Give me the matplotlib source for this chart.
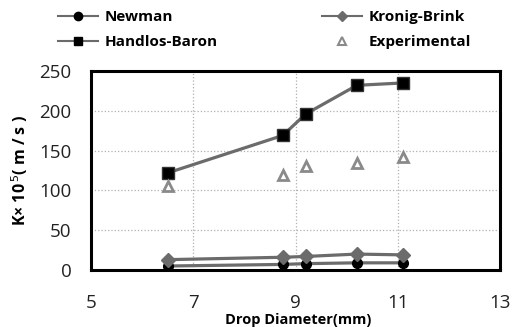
import matplotlib
matplotlib.use("Agg")
import matplotlib.pyplot as plt
from matplotlib.lines import Line2D

plt.rcParams['font.family'] = ['Open Sans', 'DejaVu Sans']

diameter = [6.5, 8.75, 9.2, 10.2, 11.1]
newman = [5, 7, 8, 9, 9]
kronig = [13, 16, 17, 20, 19]
handlos = [122, 169, 196, 232, 235]
experimental = [106, 119, 131, 135, 142]
xticks = [5, 7, 9, 11, 13]
yticks = [0, 50, 100, 150, 200, 250]

fig = plt.figure(figsize=(5.15, 3.27), dpi=100)
ax = fig.add_axes([91/515, 1-270/327, 409/515, 199/327])

lc = '#6b6b6b'
ax.plot(diameter, newman, '-', color=lc, lw=2.3, marker='o', ms=7, mfc='black', mec='black', zorder=3)
ax.plot(diameter, kronig, '-', color=lc, lw=2.3, marker='D', ms=7, mfc=lc, mec=lc, zorder=3)
ax.plot(diameter, handlos, '-', color=lc, lw=2.3, marker='s', ms=8, mfc='black', mec='#333333', zorder=3)
ax.plot(diameter, experimental, linestyle='none', marker='^', ms=7.5, mfc='white', mec='#8a8a8a', mew=2, zorder=3)

ax.set_xlim(5, 13)
ax.set_ylim(0, 250)
ax.set_xticks(xticks)
ax.set_yticks(yticks)
ax.tick_params(length=0, labelsize=13.5, colors='#222222')
ax.tick_params(axis='x', pad=17)
ax.tick_params(axis='y', pad=14)
ax.grid(True, color='#b0b0b0', linestyle=':', lw=0.9)
for s in ax.spines.values():
    s.set_linewidth(2.2)
    s.set_color('black')

ax.set_xlabel('Drop Diameter(mm)', fontsize=10.5, fontweight='bold', va='center')
ax.xaxis.set_label_coords(0.507, -(320-270)/199)
ax.set_ylabel('K× 10$^{\\,5}$( m / s )', fontsize=11.5, fontweight='bold')
ax.yaxis.set_label_coords(-(91-30)/409, 0.5)

h1 = [
    Line2D([], [], color=lc, lw=1.5, marker='o', ms=6, mfc='black', mec='black'),
    Line2D([], [], color=lc, lw=1.5, marker='s', ms=6, mfc='black', mec='black'),
]
h2 = [
    Line2D([], [], color=lc, lw=1.5, marker='D', ms=5, mfc=lc, mec=lc),
    Line2D([], [], linestyle='none', marker='^', ms=6, mfc='white', mec='#8a8a8a', mew=1.5),
]
common = dict(loc='upper left', frameon=False, prop={'weight': 'bold', 'size': 11},
              handlelength=2.6, handletextpad=0.45, labelspacing=0.72,
              borderpad=0, borderaxespad=0)
leg1 = fig.legend(h1, ['Newman', 'Handlos-Baron'], bbox_to_anchor=(58/515, 1-10/327), **common)
leg2 = fig.legend(h2, ['Kronig-Brink', 'Experimental'], bbox_to_anchor=(322/515, 1-10/327), **common)

fig.savefig('out.png', dpi=100, facecolor='white')
